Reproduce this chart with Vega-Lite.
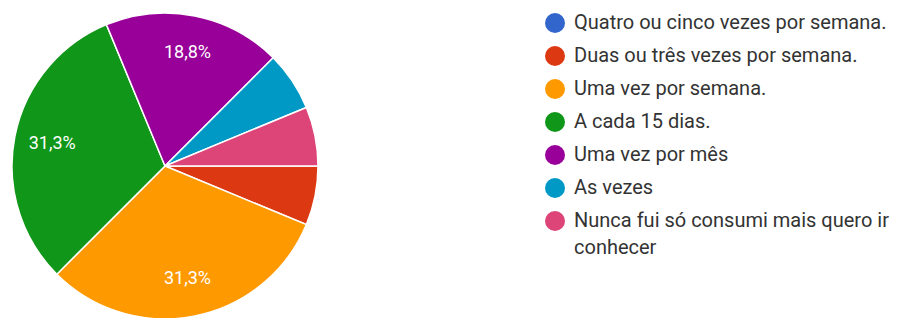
{
  "$schema": "https://vega.github.io/schema/vega-lite/v6.json",
  "width": 330,
  "height": 304,
  "autosize": "none",
  "padding": {"top": 14, "left": 0, "right": 575, "bottom": 0},
  "background": "white",
  "data": {
    "values": [
      {"rank": 1, "answer": "Quatro ou cinco vezes por semana.", "count": 0, "pct": ""},
      {"rank": 2, "answer": "Duas ou três vezes por semana.", "count": 1, "pct": ""},
      {"rank": 3, "answer": "Uma vez por semana.", "count": 5, "pct": "31,3%"},
      {"rank": 4, "answer": "A cada 15 dias.", "count": 5, "pct": "31,3%"},
      {"rank": 5, "answer": "Uma vez por mês", "count": 3, "pct": "18,8%"},
      {"rank": 6, "answer": "As vezes", "count": 1, "pct": ""},
      {"rank": 7, "answer": "Nunca fui só consumi mais quero ir conhecer", "count": 1, "pct": ""}
    ]
  },
  "encoding": {
    "theta": {"field": "count", "type": "quantitative", "stack": true, "scale": {"range": [1.5707963, 7.8539816]}},
    "order": {"field": "rank", "type": "quantitative", "sort": "ascending"},
    "color": {
      "field": "answer",
      "type": "nominal",
      "sort": null,
      "scale": {
        "domain": ["Quatro ou cinco vezes por semana.", "Duas ou três vezes por semana.", "Uma vez por semana.", "A cada 15 dias.", "Uma vez por mês", "As vezes", "Nunca fui só consumi mais quero ir conhecer"],
        "range": ["#3366CC", "#DC3912", "#FF9900", "#109618", "#990099", "#0099C6", "#DD4477"]
      },
      "legend": {
        "title": null,
        "orient": "none",
        "legendX": 545,
        "legendY": -1,
        "symbolType": "circle",
        "symbolSize": 400,
        "symbolStrokeWidth": 0,
        "labelFont": "Roboto",
        "labelFontSize": 20,
        "labelColor": "#333333",
        "labelOffset": 9,
        "labelLimit": 400,
        "rowPadding": 13,
        "padding": 0,
        "labelExpr": "datum.label == 'Nunca fui só consumi mais quero ir conhecer' ? ['Nunca fui só consumi mais quero ir', 'conhecer'] : datum.label"
      }
    }
  },
  "layer": [
    {
      "mark": {"type": "arc", "radius": 153, "stroke": "white", "strokeWidth": 1.5}
    },
    {
      "mark": {"type": "text", "radius": 115, "fill": "white", "font": "Roboto", "fontSize": 18},
      "encoding": {
        "text": {"field": "pct", "type": "nominal"},
        "color": {"value": "white"}
      }
    }
  ],
  "config": {
    "view": {"stroke": null},
    "style": {"guide-label": {"lineHeight": 27}}
  }
}
